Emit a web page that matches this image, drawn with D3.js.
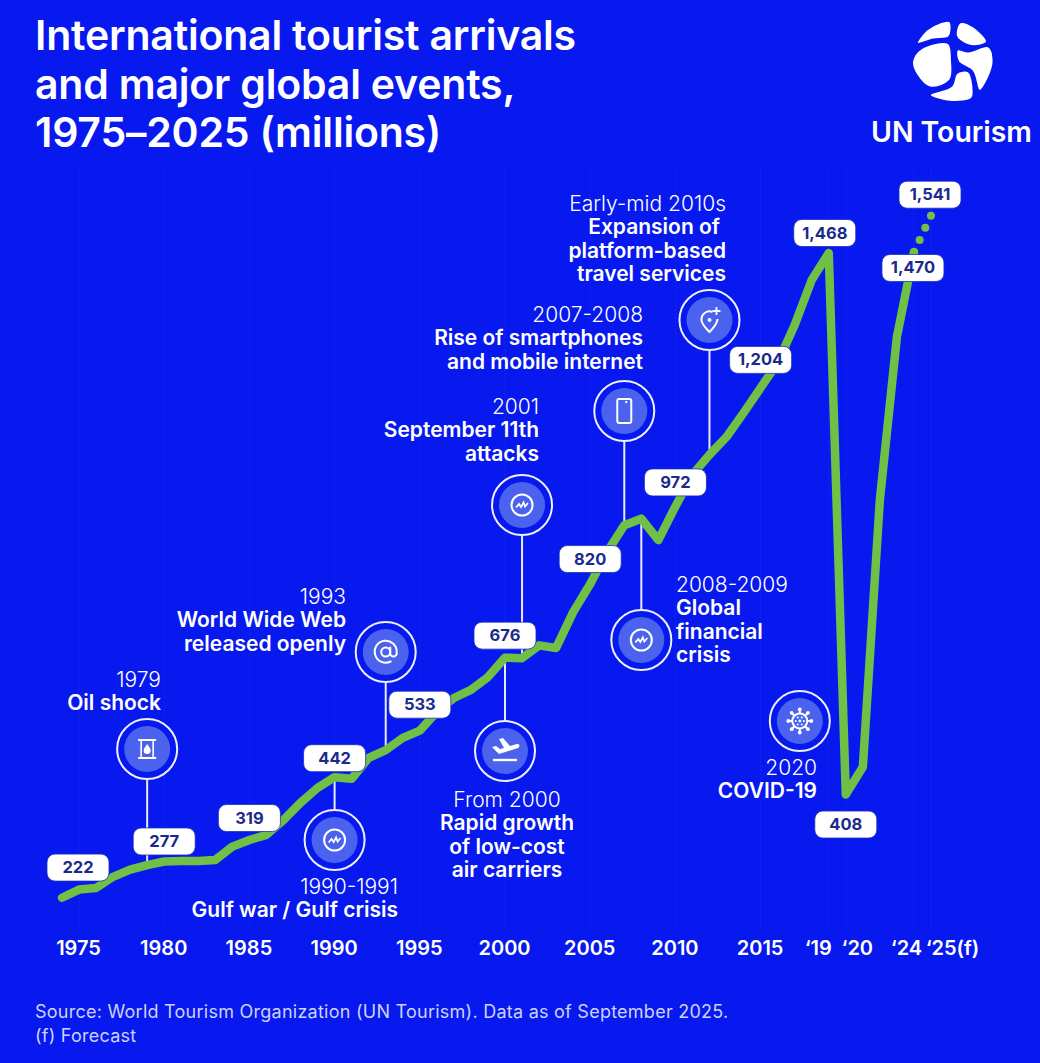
<!DOCTYPE html>
<html>
<head>
<meta charset="utf-8">
<script src="https://cdn.jsdelivr.net/npm/d3@7"></script>
<style>
  html, body { margin: 0; padding: 0; background: #0719ee; }
  svg { display: block; font-family: Inter, "Noto Sans", sans-serif; }
  .axis text { fill: #fff; font-size: 20px; font-weight: 600; font-family: Inter, sans-serif; }
  .light { font-weight: 300; }
  .bold { font-weight: 600; }
</style>
</head>
<body>
<script>
// chart data
const years = [1974,1975,1976,1977,1978,1979,1980,1981,1982,1983,1984,1985,1986,1987,1988,1989,1990,1991,1992,1993,1994,1995,1996,1997,1998,1999,2000,2001,2002,2003,2004,2005,2006,2007,2008,2009,2010,2011,2012,2013,2014,2015,2016,2017,2018,2019,2020,2021,2022,2023,2024];
const arrivals = [206,222,225,247,261,270,277,278,278,280,306,319,329,358,392,421,442,439,480,495,519,533,570,597,613,638,676,675,700,695,765,820,883,935,948,906,972,1034,1073,1108,1155,1204,1253,1327,1415,1468,408,462,985,1304,1470];
const forecastYears = [2024, 2025];
const forecastValues = [1470, 1541];

const labelYears = [1975,1980,1985,1990,1995,2000,2005,2010,2015,2019,2020,2024,2025];
const labelValues = [222,277,319,442,533,676,820,972,1204,1468,408,1470,1541];

const tickYears = [1975,1980,1985,1990,1995,2000,2005,2010,2015,2019,2020,2024,2025];
const tickNames = ['1975','1980','1985','1990','1995','2000','2005','2010','2015','‘19','‘20','‘24','‘25(f)'];

const titleLines = ['International tourist arrivals', 'and major global events,', '1975–2025 (millions)'];
const sourceLines = ['Source: World Tourism Organization (UN Tourism). Data as of September 2025.', '(f) Forecast'];

const eventYears = [1979,1990,1993,2000,2001,2007,2008,2012,2020];
const eventDates = ['1979','1990-1991','1993','From 2000','2001','2007-2008','2008-2009','Early-mid 2010s','2020'];
const eventNames = [
  ['Oil shock'],
  ['Gulf war / Gulf crisis'],
  ['World Wide Web','released openly'],
  ['Rapid growth','of low-cost','air carriers'],
  ['September 11th','attacks'],
  ['Rise of smartphones','and mobile internet'],
  ['Global','financial','crisis'],
  ['Expansion of','platform-based','travel services'],
  ['COVID-19']
];
const eventIcons = ['barrel','crisis','at','plane','crisis','phone','crisis','pin','virus'];

// layout of the annotations, same order as the event arrays
const eventLayout = [
  { cy: 749, from: 779, to: 862, tx: 161, ty: 680, anchor: 'end' },
  { cy: 840, from: 775, to: 810, tx: 398, ty: 887, anchor: 'end' },
  { cy: 652, from: 682, to: 750, tx: 346, ty: 597, anchor: 'end' },
  { cy: 751, from: 657, to: 721, tx: 507, ty: 800, anchor: 'middle' },
  { cy: 505, from: 535, to: 657, tx: 539, ty: 407, anchor: 'end' },
  { cy: 411, from: 441, to: 526, tx: 643, ty: 315, anchor: 'end' },
  { cy: 640, from: 519, to: 610, tx: 676, ty: 585, anchor: 'start' },
  { cy: 320, from: 350, to: 455, tx: 726, ty: 204, anchor: 'end', firstNudge: -6 },
  { cy: 721, dx: -46, tx: 817, ty: 768, anchor: 'end' }
];
// where each value pill sits relative to its point
const labelNudge = [[-1,-22],[0,-20],[0,-22],[0,-19],[0,-26],[0,-22],[0,-25],[0,-24],[0,-28],[-4,-20],[0,30],[-1,16],[-1,-21]];
// the last ticks are pushed apart so they don't collide
const tickNudge = [-1,-1,-1,-1,-1,-1,-1,-1,-1,-11,11,-8,21];

const width = 1040, height = 1063;
const x = d3.scaleLinear().domain([1975, 2025]).range([79, 931]);
const y = d3.scaleLinear().domain([0, 1468]).range([1003, 253]);

const svg = d3.select('body').append('svg').attr('width', width).attr('height', height);
svg.append('rect').attr('width', width).attr('height', height).attr('fill', '#0719ee');

// title
svg.append('g').selectAll('text').data(titleLines).join('text')
  .attr('x', 35).attr('y', (d, i) => 50 + i * 48.5)
  .attr('fill', '#fff').attr('font-size', 41).attr('font-weight', 600).attr('letter-spacing', -0.2)
  .text(d => d);

// logo
const logoBlobs = [
  [[112,130],[140,90],[180,68],[210,65],[212,100],[205,112],[160,118]],
  [[240,68],[280,80],[320,125],[280,138],[240,122],[228,105]],
  [[125,145],[205,130],[215,180],[210,240],[150,262],[110,225],[97,185]],
  [[232,150],[265,155],[325,140],[340,180],[325,235],[298,272],[278,215],[235,185]],
  [[230,220],[265,215],[280,270],[275,295],[215,305],[150,285],[215,258]]
];
const blob = d3.line().x(d => 880 + d[0] / 3).y(d => d[1] / 3).curve(d3.curveCatmullRomClosed.alpha(0.5));
svg.append('g').selectAll('path').data(logoBlobs).join('path').attr('d', blob)
  .attr('fill', '#fff').attr('stroke', '#0719ee').attr('stroke-width', 1.5);
svg.append('text').attr('x', 871).attr('y', 142).attr('fill', '#fff')
  .attr('font-size', 28.4).attr('font-weight', 600).text('UN Tourism');

// gridlines
svg.append('g').selectAll('line').data(tickYears).join('line')
  .attr('x1', d => x(d)).attr('x2', d => x(d)).attr('y1', 165).attr('y2', 932)
  .attr('stroke', 'rgba(255,255,255,0.07)').attr('stroke-width', 1).attr('stroke-dasharray', '2 2');

// x axis
const axis = d3.axisBottom(x).tickValues(tickYears).tickSize(0).tickPadding(0)
  .tickFormat(d => tickNames[tickYears.indexOf(d)]);
const axisG = svg.append('g').attr('class', 'axis').attr('transform', 'translate(0,941)').call(axis);
axisG.select('.domain').remove();
axisG.selectAll('.tick text').attr('dx', (d, i) => tickNudge[i]);

// connectors go under the line
svg.append('g').selectAll('line').data(eventYears.filter((d, i) => eventLayout[i].from)).join('line')
  .attr('x1', d => x(d)).attr('x2', d => x(d))
  .attr('y1', d => eventLayout[eventYears.indexOf(d)].from)
  .attr('y2', d => eventLayout[eventYears.indexOf(d)].to)
  .attr('stroke', '#e8ebff').attr('stroke-width', 2);

// arrivals line
const line = d3.line().x(d => x(d[0])).y(d => y(d[1]));
svg.append('path').datum(years.map((d, i) => [d, arrivals[i]])).attr('d', line)
  .attr('fill', 'none').attr('stroke', '#70c046').attr('stroke-width', 8.5)
  .attr('stroke-linejoin', 'round').attr('stroke-linecap', 'round');
const forecast = svg.append('path').datum(forecastYears.map((d, i) => [d, forecastValues[i]])).attr('d', line)
  .attr('fill', 'none').attr('stroke', '#70c046').attr('stroke-width', 8).attr('stroke-linecap', 'round');
forecast.attr('stroke-dasharray', `0 ${forecast.node().getTotalLength() / 3 - 0.01}`);

// event markers
const icons = {
  barrel(g) {
    g.append('rect').attr('x', -6).attr('y', -9).attr('width', 12).attr('height', 18).attr('fill', 'none').attr('stroke', '#fff').attr('stroke-width', 1.6);
    g.append('path').attr('d', 'M-9,-9H9M-9,9H9').attr('stroke', '#fff').attr('stroke-width', 2);
    g.append('path').attr('d', 'M0,-5C2,-2 3.5,-0.5 3.5,1.5A3.5,3.5 0 0 1 -3.5,1.5C-3.5,-0.5 -2,-2 0,-5Z').attr('fill', '#fff');
  },
  crisis(g) {
    g.append('circle').attr('r', 10.5).attr('fill', 'none').attr('stroke', '#fff').attr('stroke-width', 2);
    g.append('path').attr('d', 'M-6,2.5L-3,-1L-1,2L1.5,-2.5L3,1.5L6,-2').attr('fill', 'none').attr('stroke', '#fff').attr('stroke-width', 1.8);
  },
  at(g) {
    g.append('circle').attr('r', 4.5).attr('fill', 'none').attr('stroke', '#fff').attr('stroke-width', 2);
    g.append('path').attr('d', 'M4.5,-4.5V1.5A3,3 0 0 0 11,1V0A11,11 0 1 0 5,9.5').attr('fill', 'none').attr('stroke', '#fff').attr('stroke-width', 2).attr('stroke-linecap', 'round');
  },
  plane(g) {
    g.append('path').attr('d', 'M-13,-4L-9,-5L-5,-2L-1,-3L-6,-12L-2,-13L5,-5L12,-7C15,-7.5 15,-4 13,-3L-6,3Z').attr('fill', '#fff');
    g.append('path').attr('d', 'M-12,9H12').attr('stroke', '#fff').attr('stroke-width', 2.4);
  },
  phone(g) {
    g.append('rect').attr('x', -7).attr('y', -12).attr('width', 14).attr('height', 24).attr('rx', 2).attr('fill', 'none').attr('stroke', '#fff').attr('stroke-width', 2);
    g.append('path').attr('d', 'M1,-9H3').attr('stroke', '#fff').attr('stroke-width', 2);
  },
  pin(g) {
    g.append('path').attr('d', 'M3,-8A8,8 0 0 0 -8,0C-8,4 -3,9 0,12C3,9 8,4 8,-1').attr('fill', 'none').attr('stroke', '#fff').attr('stroke-width', 2).attr('stroke-linejoin', 'round');
    g.append('circle').attr('r', 2).attr('cy', 0).attr('fill', '#fff');
    g.append('path').attr('d', 'M7,-13V-5M3,-9H11').attr('stroke', '#fff').attr('stroke-width', 1.8);
  },
  virus(g) {
    g.append('circle').attr('r', 7.5).attr('fill', 'none').attr('stroke', '#fff').attr('stroke-width', 2);
    d3.range(8).forEach(i => {
      const a = i * Math.PI / 4;
      g.append('line').attr('x1', 7 * Math.cos(a)).attr('y1', 7 * Math.sin(a)).attr('x2', 11 * Math.cos(a)).attr('y2', 11 * Math.sin(a)).attr('stroke', '#fff').attr('stroke-width', 2);
      g.append('circle').attr('cx', 11.5 * Math.cos(a)).attr('cy', 11.5 * Math.sin(a)).attr('r', 1.9).attr('fill', '#fff');
    });
    g.append('circle').attr('r', 1.4).attr('fill', '#fff');
    d3.range(6).forEach(i => {
      const a = i * Math.PI / 3;
      g.append('circle').attr('cx', 4 * Math.cos(a)).attr('cy', 4 * Math.sin(a)).attr('r', 1).attr('fill', '#fff');
    });
  }
};

eventYears.forEach((year, i) => {
  const p = eventLayout[i];
  const g = svg.append('g').attr('transform', `translate(${x(year) + (p.dx || 0)},${p.cy})`);
  g.append('circle').attr('r', 30).attr('fill', '#0719ee').attr('stroke', '#eef0ff').attr('stroke-width', 2);
  g.append('circle').attr('r', 23).attr('fill', '#4a62ee');
  icons[eventIcons[i]](g);

  const t = svg.append('g').attr('text-anchor', p.anchor).attr('fill', '#fff').attr('font-size', 21);
  t.append('text').attr('class', 'light').attr('x', p.tx).attr('y', p.ty + 7).text(eventDates[i]);
  t.selectAll('text.bold').data(eventNames[i]).join('text').attr('class', 'bold')
    .attr('x', (d, k) => p.tx + (k === 0 && p.firstNudge ? p.firstNudge : 0))
    .attr('y', (d, k) => p.ty + 7 + 23.3 * (k + 1)).text(d => d);
});

// value pills
const pills = svg.append('g').selectAll('g').data(labelYears).join('g')
  .attr('transform', (d, i) => `translate(${x(d) + labelNudge[i][0]},${y(labelValues[i]) + labelNudge[i][1]})`);
pills.append('rect').attr('x', -31).attr('y', -13.5).attr('width', 62).attr('height', 27).attr('rx', 8)
  .attr('fill', '#fff').attr('stroke', '#1b2fb8').attr('stroke-width', 0.8);
pills.append('text').attr('text-anchor', 'middle').attr('y', 5.5)
  .attr('fill', '#1a2a8c').attr('font-size', 16.5).attr('font-weight', 700)
  .text((d, i) => d3.format(',')(labelValues[i]));

// footer
svg.append('g').selectAll('text').data(sourceLines).join('text')
  .attr('x', 35).attr('y', (d, i) => 1018 + i * 24)
  .attr('fill', '#ccd3fb').attr('font-size', 18).attr('font-weight', 400).attr('letter-spacing', 0.25)
  .text(d => d);
</script>
</body>
</html>
